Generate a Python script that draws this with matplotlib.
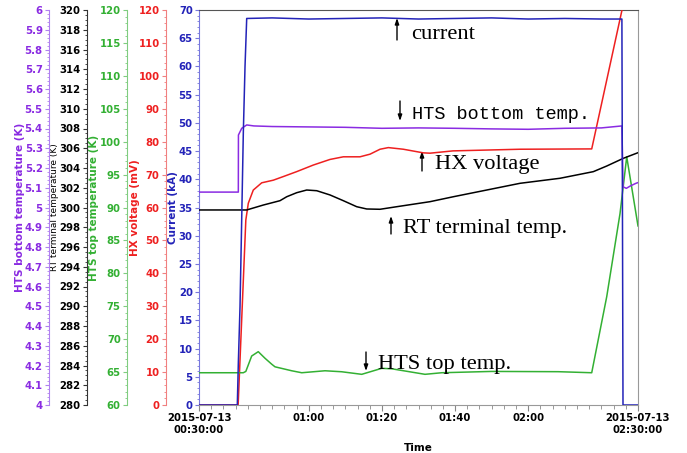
import matplotlib
matplotlib.use("Agg")
import matplotlib.pyplot as plt
from matplotlib.ticker import MultipleLocator, FixedLocator, FixedFormatter, FuncFormatter

# ---------------- data (time in minutes after 2015-07-13 00:30:00) ----------------
t_cur = [0, 10.47, 10.75, 11.21, 11.67, 12.11, 12.58, 13.04, 20, 30, 40, 50, 60, 70, 80, 90, 100, 110, 115.6, 115.9, 120]
current = [0, 0, 7.4, 17.4, 32.8, 48.1, 60.0, 68.5, 68.6, 68.4, 68.5, 68.6, 68.4, 68.5, 68.6, 68.4, 68.5, 68.4, 68.4, 0, 0]

t_bot = [0, 10.75, 10.78, 11.68, 13.04, 15, 20, 30, 40, 50, 60, 70, 80, 90, 100, 110, 115.6, 115.9, 116.8, 118, 119.5, 120]
hts_bottom = [5.078, 5.078, 5.367, 5.401, 5.418, 5.413, 5.41, 5.408, 5.406, 5.401, 5.403, 5.401, 5.398, 5.396,
              5.401, 5.403, 5.413, 5.105, 5.097, 5.11, 5.123, 5.126]

t_hx = [0, 10.7, 12.8, 13.48, 14.84, 17.14, 20.31, 23.05, 26.71, 31.25, 35.81, 39.45, 44.0, 46.75, 49.48,
        51.75, 55.85, 61.32, 63.15, 69.4, 87.75, 107.35, 117.0]
hx_voltage = [0, 0, 56.2, 61.3, 65.3, 67.5, 68.3, 69.4, 70.9, 72.9, 74.6, 75.4, 75.4, 76.2, 77.7,
              78.2, 77.7, 76.6, 76.5, 77.2, 77.7, 77.8, 127]

t_rt = [0, 13.04, 17.58, 22.14, 23.98, 26.71, 29.44, 32.18, 35.81, 39.45, 43.11, 45.85, 49.48, 54.05,
        63.15, 69.52, 78.65, 87.75, 98.69, 107.79, 111.45, 115.99, 120]
rt_terminal = [299.75, 299.75, 300.25, 300.69, 301.09, 301.50, 301.77, 301.70, 301.27, 300.69, 300.08,
               299.85, 299.82, 300.08, 300.59, 301.09, 301.77, 302.45, 302.96, 303.63, 304.20, 304.98, 305.55]

t_top = [0, 12.1, 12.8, 14.4, 16.2, 18.04, 19.87, 20.78, 25.34, 28.08, 34.45, 39.0, 44.48, 49.95, 52.68,
         61.78, 66.35, 80.0, 98.2, 107.35, 111.45, 115.09, 116.92, 120]
hts_top = [64.9, 64.9, 65.1, 67.44, 68.1, 67.1, 66.2, 65.8, 65.2, 64.9, 65.2, 65.05, 64.66, 65.57, 65.5,
           64.66, 64.9, 65.1, 65.06, 64.9, 76.45, 89.1, 97.7, 87.2]

x_ticks = [0, 30, 50, 70, 90, 120]
x_labels = ["2015-07-13\n00:30:00", "01:00", "01:20", "01:40", "02:00", "2015-07-13\n02:30:00"]

# ---------------- styling ----------------
plt.rcParams['font.family'] = ['DejaVu Sans']
plt.rcParams['font.weight'] = 'bold'

C_BLUE = '#2323b8'
C_PURPLE = '#8a2be2'
C_RED = '#ee2020'
C_GREEN = '#33b033'
C_BLACK = '#000000'

W, H = 687, 453
fig = plt.figure(figsize=(W / 100, H / 100), dpi=100)
L, R, T, B = 199, 638, 10, 405
ax = fig.add_axes([L / W, 1 - B / H, (R - L) / W, (B - T) / H])

def fx(px):
    return (px - L) / (R - L)

TS = 7.3
gfmt = FuncFormatter(lambda v, p: '%g' % round(v, 6))

# main axis: current
ax.set_xlim(0, 120)
ax.set_ylim(0, 70)
ax.yaxis.set_major_locator(MultipleLocator(5))
ax.yaxis.set_minor_locator(MultipleLocator(1))
ax.xaxis.set_major_locator(FixedLocator(x_ticks))
ax.xaxis.set_major_formatter(FixedFormatter(x_labels))
ax.xaxis.set_minor_locator(MultipleLocator(10 / 3))
ax.tick_params(axis='x', which='major', length=4, color='#888888', labelsize=TS, pad=2)
ax.tick_params(axis='x', which='minor', length=3, color='#888888')
ax.tick_params(axis='y', which='major', length=3, color='#7777dd', labelcolor=C_BLUE, labelsize=TS, pad=1.5)
ax.tick_params(axis='y', which='minor', length=1.5, color='#7777dd')
ax.spines['top'].set_color('#555555')
for s in ['right', 'bottom']:
    ax.spines[s].set_color('#999999')
ax.spines['left'].set_color('#7777dd')
ax.set_ylabel('Current (kA)', color=C_BLUE, fontsize=7.5, fontweight='bold')
ax.yaxis.set_label_coords(fx(178), 0.5)
ax.set_xlabel('Time', fontsize=7.5, fontweight='bold', labelpad=6)

def make_twin(pos_px, ylim, major, minor, color, spine_color, label, label_px, lsize=7.5, lweight='bold'):
    tw = ax.twinx()
    tw.set_ylim(*ylim)
    tw.spines['left'].set_position(('axes', fx(pos_px)))
    tw.spines['left'].set_visible(True)
    tw.spines['left'].set_color(spine_color)
    for s in ['right', 'top', 'bottom']:
        tw.spines[s].set_visible(False)
    tw.yaxis.set_ticks_position('left')
    tw.yaxis.set_label_position('left')
    tw.yaxis.set_major_locator(MultipleLocator(major))
    tw.yaxis.set_minor_locator(MultipleLocator(minor))
    tw.yaxis.set_major_formatter(gfmt)
    tw.tick_params(axis='y', which='major', length=3, color=spine_color, labelcolor=color, labelsize=TS, pad=1.5)
    tw.tick_params(axis='y', which='minor', length=1.5, color=spine_color)
    tw.set_ylabel(label, color=color, fontsize=lsize, fontweight=lweight)
    tw.yaxis.set_label_coords(fx(label_px), 0.5)
    return tw

ax_hx = make_twin(166, (0, 120), 10, 2, C_RED, '#f08080', 'HX voltage (mV)', 140)
ax_top = make_twin(127, (60, 120), 5, 1, C_GREEN, '#80cc80', 'HTS top temperature (K)', 99)
ax_rt = make_twin(87, (280, 320), 2, 0.5, C_BLACK, '#333333', 'RT terminal temperature (K)', 59, lsize=6.5, lweight='normal')
ax_bot = make_twin(49, (4, 6), 0.1, 0.02, C_PURPLE, '#b080f0', 'HTS bottom temperature (K)', 25)

lw = 1.1
ax_top.plot(t_top, hts_top, color=C_GREEN, lw=lw)
ax_rt.plot(t_rt, rt_terminal, color=C_BLACK, lw=lw)
ax_hx.plot(t_hx, hx_voltage, color=C_RED, lw=lw)
ax_bot.plot(t_bot, hts_bottom, color=C_PURPLE, lw=lw)
ax_cur = ax.twinx()
ax_cur.set_ylim(0, 70)
ax_cur.set_yticks([])
for s in ax_cur.spines.values():
    s.set_visible(False)
ax_cur.plot(t_cur, current, color=C_BLUE, lw=lw)

# ---------------- annotations (figure pixel positions) ----------------
serif = ['Liberation Serif', 'DejaVu Serif']
def label(text, x, y, fam=serif, size=16.2):
    fig.text(x / W, 1 - y / H, text, ha='left', va='baseline', fontsize=size,
             family=fam, fontweight='normal', color='black')

def arrow(x, y0, y1):
    ax.annotate('', xy=(x, H - y1), xytext=(x, H - y0), xycoords='figure pixels',
                textcoords='figure pixels',
                arrowprops=dict(arrowstyle='-|>,head_length=0.35,head_width=0.12', lw=1.0, color='black',
                                shrinkA=0, shrinkB=0))

label('current', 411, 39)
arrow(397, 40, 18)
label('HTS bottom temp.', 412, 119, fam=['Liberation Mono', 'DejaVu Sans Mono'], size=13.4)
arrow(400, 101, 121)
label('HX voltage', 435, 169)
arrow(422, 171, 151)
label('RT terminal temp.', 403, 233)
arrow(391, 234, 216)
label('HTS top temp.', 378, 369)
arrow(366, 352, 371)

fig.savefig('out.png', dpi=100)
